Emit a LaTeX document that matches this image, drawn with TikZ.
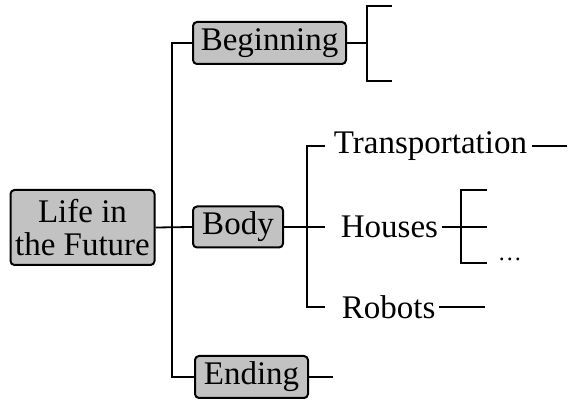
\documentclass[tikz,border=0pt]{standalone}
\usepackage{fontspec}
\setmainfont{Liberation Serif}
\begin{document}
\begin{tikzpicture}[x=1pt,y=-1pt,
  line width=1.8pt,
  box/.style={draw=black, fill=black!24, rounded corners=4pt, line width=2pt, inner sep=0pt, font=\fontsize{33}{33}\selectfont, align=center},
  lbl/.style={inner sep=0pt, font=\fontsize{33}{33}\selectfont, anchor=west}
]
\useasboundingbox (0,0) rectangle (582,406);
\node[box, minimum width=144pt, minimum height=75pt] (life) at (82.5,227.5) {Life in\\the Future};
\node[box, minimum width=153pt, minimum height=42pt] (beg) at (269.5,43) {Beginning};
\node[box, minimum width=90pt, minimum height=41pt] (body) at (238,227) {Body};
\node[box, minimum width=113pt, minimum height=42pt] (end) at (251.5,377) {Ending};
% trunk
\draw (life.east) -- (body.west);
\draw (beg.west) -- (172,43) -- (172,377) -- (end.west);
% beginning bracket
\coordinate (bb) at (367,43);
\draw (beg.east) -- (bb);
\draw (392,6) -- (367,6) -- (367,81) -- (392,81);
% ending
\coordinate (ee) at (333,377);
\draw (end.east) -- (ee);
% body branches
\node[lbl] (tra) at (333,146) {Transportation};
\node[lbl] (hou) at (340,227) {Houses};
\node[lbl] (rob) at (341,307) {Robots};
\draw (body.east) -- (325,227);
\draw (325,146) -- (307,146) -- (307,307) -- (325,307);
\coordinate (te) at (567,146);
\draw ([xshift=4pt]tra.east) -- (te);
\coordinate (he) at (487,227);
\draw ([xshift=3pt]hou.east) -- (he);
\draw (487,190) -- (461,190) -- (461,263) -- (487,263);
\node[lbl] (dots) at (497,259) {\fontsize{24}{24}\selectfont\dots};
\coordinate (re) at (485,307);
\draw ([xshift=3pt]rob.east) -- (re);
\end{tikzpicture}
\end{document}
